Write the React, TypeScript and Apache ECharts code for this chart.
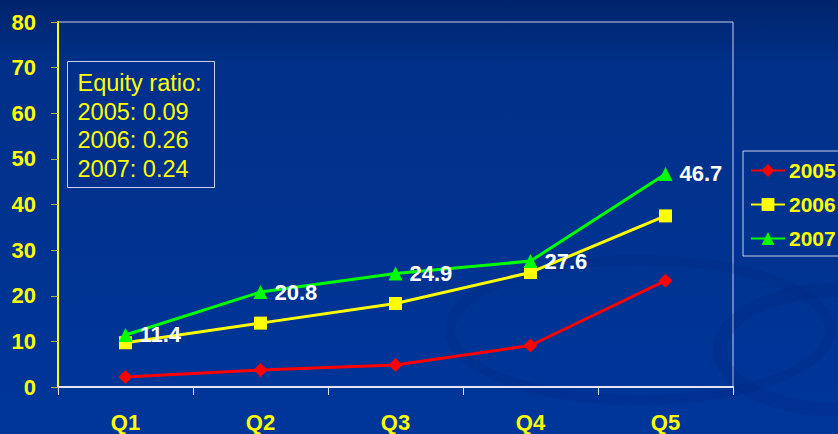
import React, { useEffect, useRef } from "react";
import * as echarts from "echarts";

const categories = ["Q1", "Q2", "Q3", "Q4", "Q5"];
const s2005 = [2.2, 3.7, 4.8, 9.1, 23.3];
const s2006 = [9.7, 14.0, 18.3, 25.1, 37.5];
const s2007 = [11.4, 20.8, 24.9, 27.6, 46.7];
const seriesNames = ["2005", "2006", "2007"];
const equityLines = ["Equity ratio:", "2005: 0.09", "2006: 0.26", "2007: 0.24"];

const FONT = "'Liberation Sans', Arial, sans-serif";

export default function App() {
  const ref = useRef<HTMLDivElement>(null);
  useEffect(() => {
    if (!ref.current) return;
    const chart = echarts.init(ref.current, null, { renderer: "svg" });
    const label = {
      show: true,
      position: "right",
      distance: 7,
      color: "#ffffff",
      fontWeight: "bold",
      fontSize: 22,
      fontFamily: FONT,
    };
    chart.setOption({
      animation: false,
      backgroundColor: new echarts.graphic.LinearGradient(0, 0, 0, 1, [
        { offset: 0, color: "#00246c" },
        { offset: 0.15, color: "#003088" },
        { offset: 1, color: "#00369a" },
      ]),
      graphic: [
        {
          type: "ellipse",
          shape: { cx: 640, cy: 330, rx: 190, ry: 70 },
          style: { fill: "none", stroke: "rgba(0,30,110,0.14)", lineWidth: 10 },
          silent: true,
          z: 0,
        },
        {
          type: "ellipse",
          shape: { cx: 840, cy: 350, rx: 120, ry: 60 },
          style: { fill: "none", stroke: "rgba(0,30,110,0.14)", lineWidth: 14 },
          silent: true,
          z: 0,
        },
        {
          type: "group",
          left: 67,
          top: 61,
          z: 10,
          children: [
            {
              type: "rect",
              shape: { x: 0, y: 0, width: 147, height: 126 },
              style: { fill: "#00308c", stroke: "#c8d0ea", lineWidth: 1 },
            },
            {
              type: "text",
              x: 10,
              y: 7,
              style: {
                text: equityLines.join("\n"),
                fill: "#ffff00",
                fontSize: 23.5,
                lineHeight: 28.7,
                fontFamily: FONT,
              },
            },
          ],
        },
        {
          type: "rect",
          shape: { x: 743, y: 151, width: 110, height: 105 },
          style: { fill: "none", stroke: "#c8d0ea", lineWidth: 1 },
          z: 0,
        },
      ],
      legend: {
        data: seriesNames,
        orient: "vertical",
        left: 745,
        top: 155,
        itemWidth: 34,
        itemHeight: 16,
        itemGap: 13,
        textStyle: { color: "#ffff00", fontSize: 21, fontWeight: "bold", fontFamily: FONT, padding: [0, 0, 0, -1] },
      },
      grid: {
        left: 58,
        right: 105,
        top: 22,
        bottom: 47,
        show: true,
        borderColor: "#c8d0ea",
        borderWidth: 1,
        backgroundColor: "transparent",
      },
      xAxis: {
        type: "category",
        data: categories,
        boundaryGap: true,
        axisLine: { lineStyle: { color: "#e0e4f4", width: 2 } },
        axisTick: { show: true, length: 8, lineStyle: { color: "#e0e4f4", width: 1 } },
        axisLabel: {
          color: "#ffff00",
          fontSize: 22,
          fontWeight: "bold",
          fontFamily: FONT,
          margin: 24,
        },
        splitLine: { show: false },
      },
      yAxis: {
        type: "value",
        min: 0,
        max: 80,
        interval: 10,
        axisLine: { show: true, lineStyle: { color: "#ffff00", width: 2 } },
        axisTick: { show: true, length: 7, lineStyle: { color: "#b0b040", width: 1 } },
        axisLabel: {
          color: "#ffff00",
          fontSize: 22,
          fontWeight: "bold",
          fontFamily: FONT,
          margin: 22,
        },
        splitLine: { show: false },
      },
      series: [
        {
          name: "2005",
          type: "line",
          data: s2005,
          symbol: "diamond",
          symbolSize: 14,
          color: "#ff0000",
          lineStyle: { width: 3, color: "#ff0000" },
          itemStyle: { color: "#ff0000" },
          z: 3,
        },
        {
          name: "2006",
          type: "line",
          data: s2006,
          symbol: "rect",
          symbolSize: 13,
          color: "#ffff00",
          lineStyle: { width: 3, color: "#ffff00" },
          itemStyle: { color: "#ffff00" },
          z: 4,
        },
        {
          name: "2007",
          type: "line",
          data: s2007,
          symbol: "triangle",
          symbolSize: 14,
          color: "#00ff00",
          lineStyle: { width: 3, color: "#00ff00" },
          itemStyle: { color: "#00ff00" },
          label,
          z: 5,
        },
      ],
    });
    return () => chart.dispose();
  }, []);
  return <div ref={ref} style={{ width: 838, height: 434, position: "absolute", left: 0, top: 0 }} />;
}
